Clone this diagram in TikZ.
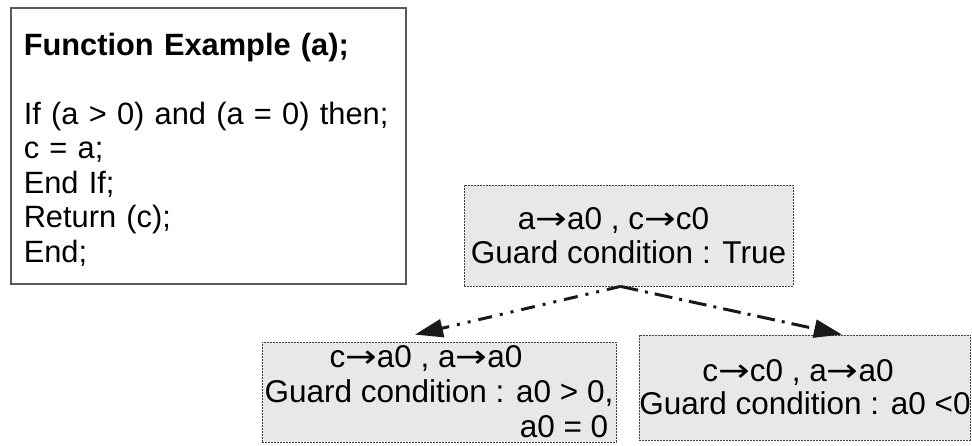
\documentclass[tikz,border=0pt]{standalone}
\usepackage{fontspec}
\setmainfont{Liberation Sans}
\newfontfamily\arrowfont{DejaVu Sans}
\usetikzlibrary{arrows.meta,calc}

\newcommand\mapsarrow{\scalebox{1.2}[1]{\arrowfont →}}

\tikzstyle{codebox}=[draw=black!65, line width=1.5pt, anchor=north west, minimum width=395pt, minimum height=276pt, inner xsep=13pt, inner ysep=0pt, text width=369pt, align=left, font=\fontsize{30.8}{34.5}\selectfont]
\tikzstyle{state}=[draw=black!75, dash pattern=on 2pt off 1pt, line width=0.8pt, fill=black!9, inner sep=0pt, align=center, font=\fontsize{31.5}{34}\selectfont]
\tikzstyle{branch}=[draw=black!90, line width=3pt, -{Triangle[length=28pt,width=18pt]}]

\begin{document}
\begin{tikzpicture}[x=1pt, y=-1pt]
	\useasboundingbox (0,0) rectangle (972,445);
	% the function under test
	\node[codebox] (code) at (10,7) {\rule{0pt}{30pt}\textbf{Function Example (a);}\\[34.5pt]
		If (a > 0) and (a = 0) then;\\ c = a;\\ End If;\\ Return (c);\\ End;};
	% symbolic states
	\node[state, minimum width=329pt, minimum height=101pt] (top) at (628.5,235.5)
		{a\mapsarrow a0 , c\mapsarrow c0\hspace*{30pt}\\ Guard condition : True};
	\node[state, minimum width=354pt, minimum height=100pt, font=\fontsize{31.5}{35}\selectfont] (lft) at (439,392)
		{c\mapsarrow a0 , a\mapsarrow a0\hspace*{26pt}\\ Guard condition : a0 > 0,\hspace*{10pt}\\
		\hspace*{250pt}a0 = 0};
	\node[state, minimum width=330pt, minimum height=105pt, font=\fontsize{31.5}{33}\selectfont] (rgt) at (805,387.5)
		{c\mapsarrow c0 , a\mapsarrow a0\hspace*{14pt}\\ Guard condition : a0 <0};
	% branches
	\path[branch, dash pattern=on 14pt off 8pt on 3pt off 8pt on 3pt off 8pt]
		($(top.south)+(-8,0)$) -- ($(lft.north)+(-24,-7)$);
	\path[branch, dash pattern=on 18pt off 7pt on 3pt off 7pt]
		($(top.south)+(-8,0)$) -- ($(rgt.north)+(37,0)$);
\end{tikzpicture}
\end{document}
